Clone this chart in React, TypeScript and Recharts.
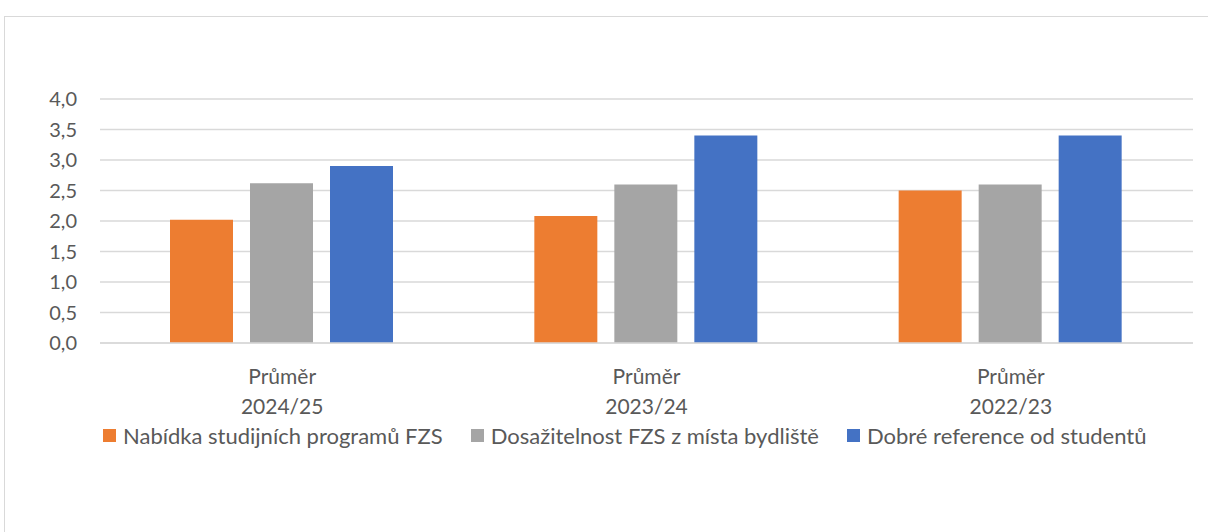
import { BarChart, Bar, XAxis, YAxis, CartesianGrid, Legend } from "recharts";

const categories = ["Průměr 2024/25", "Průměr 2023/24", "Průměr 2022/23"];
const nabidka = [2.02, 2.08, 2.5];
const dosazitelnost = [2.62, 2.6, 2.6];
const reference = [2.9, 3.4, 3.4];
const yTicks = [0, 0.5, 1, 1.5, 2, 2.5, 3, 3.5, 4];

const series = [
  { key: "nabidka", name: "Nabídka studijních programů FZS", color: "#ED7D31" },
  { key: "dosazitelnost", name: "Dosažitelnost FZS z místa bydliště", color: "#A5A5A5" },
  { key: "reference", name: "Dobré reference od studentů", color: "#4472C4" },
];

const data = categories.map((c, i) => ({
  category: c,
  nabidka: nabidka[i],
  dosazitelnost: dosazitelnost[i],
  reference: reference[i],
}));

const FONT = "Lato, 'Noto Sans', sans-serif";
const TEXT = "#595959";

const CategoryTick = ({ x, y, payload }: any) => {
  const parts = String(payload.value).split(" ");
  return (
    <g transform={`translate(${x},${y})`}>
      <text textAnchor="middle" fill={TEXT} fontSize={21} fontFamily={FONT}>
        <tspan x={0} dy={39}>{parts[0]}</tspan>
        <tspan x={0} dy={30}>{parts[1]}</tspan>
      </text>
    </g>
  );
};

// keep legend in series order (vertical layout would reverse it)
const LegendContent = ({ payload }: any) => {
  const items = [...(payload || [])].sort(
    (a: any, b: any) =>
      series.findIndex((s) => s.key === a.dataKey) - series.findIndex((s) => s.key === b.dataKey)
  );
  return (
    <div style={{ display: "flex", fontFamily: FONT, fontSize: 22, color: TEXT, whiteSpace: "nowrap" }}>
      {items.map((p: any) => (
        <div key={p.value} style={{ display: "flex", alignItems: "center", marginRight: 28 }}>
          <span style={{ width: 13, height: 13, background: p.color, marginRight: 7 }} />
          <span>{p.value}</span>
        </div>
      ))}
    </div>
  );
};

export default function App() {
  return (
    <div style={{ position: "absolute", left: 0, top: 0, width: 1208, height: 532, overflow: "hidden", background: "#fff" }}>
      <div
        style={{
          position: "absolute",
          left: 4,
          top: 16,
          width: 1230,
          height: 540,
          border: "1px solid #d9d9d9",
        }}
      />
      <div style={{ position: "absolute", left: 0, top: 0 }}>
        <BarChart
          width={1208}
          height={532}
          data={data}
          margin={{ top: 99, right: 15, left: 0, bottom: 109 }}
          barCategoryGap={70}
          barGap={17}
        >
          <CartesianGrid vertical={false} stroke="#d9d9d9" strokeWidth={1.3} />
          <XAxis
            dataKey="category"
            height={80}
            axisLine={{ stroke: "#d9d9d9", strokeWidth: 1.3 }}
            tickLine={false}
            tickSize={0}
            tick={<CategoryTick />}
            interval={0}
          />
          <YAxis
            width={100}
            domain={[0, 4]}
            ticks={yTicks}
            axisLine={false}
            tickLine={false}
            tickSize={0}
            tickMargin={23}
            tickFormatter={(v: number) => v.toFixed(1).replace(".", ",")}
            tick={{ fill: TEXT, fontSize: 20, fontFamily: FONT }}
          />
          <Legend
            layout="vertical"
            align="center"
            verticalAlign="middle"
            content={<LegendContent />}
            wrapperStyle={{ left: 103, top: 422, width: 1100 }}
          />
          {series.map((s) => (
            <Bar key={s.key} dataKey={s.key} name={s.name} fill={s.color} isAnimationActive={false} />
          ))}
        </BarChart>
      </div>
    </div>
  );
}
